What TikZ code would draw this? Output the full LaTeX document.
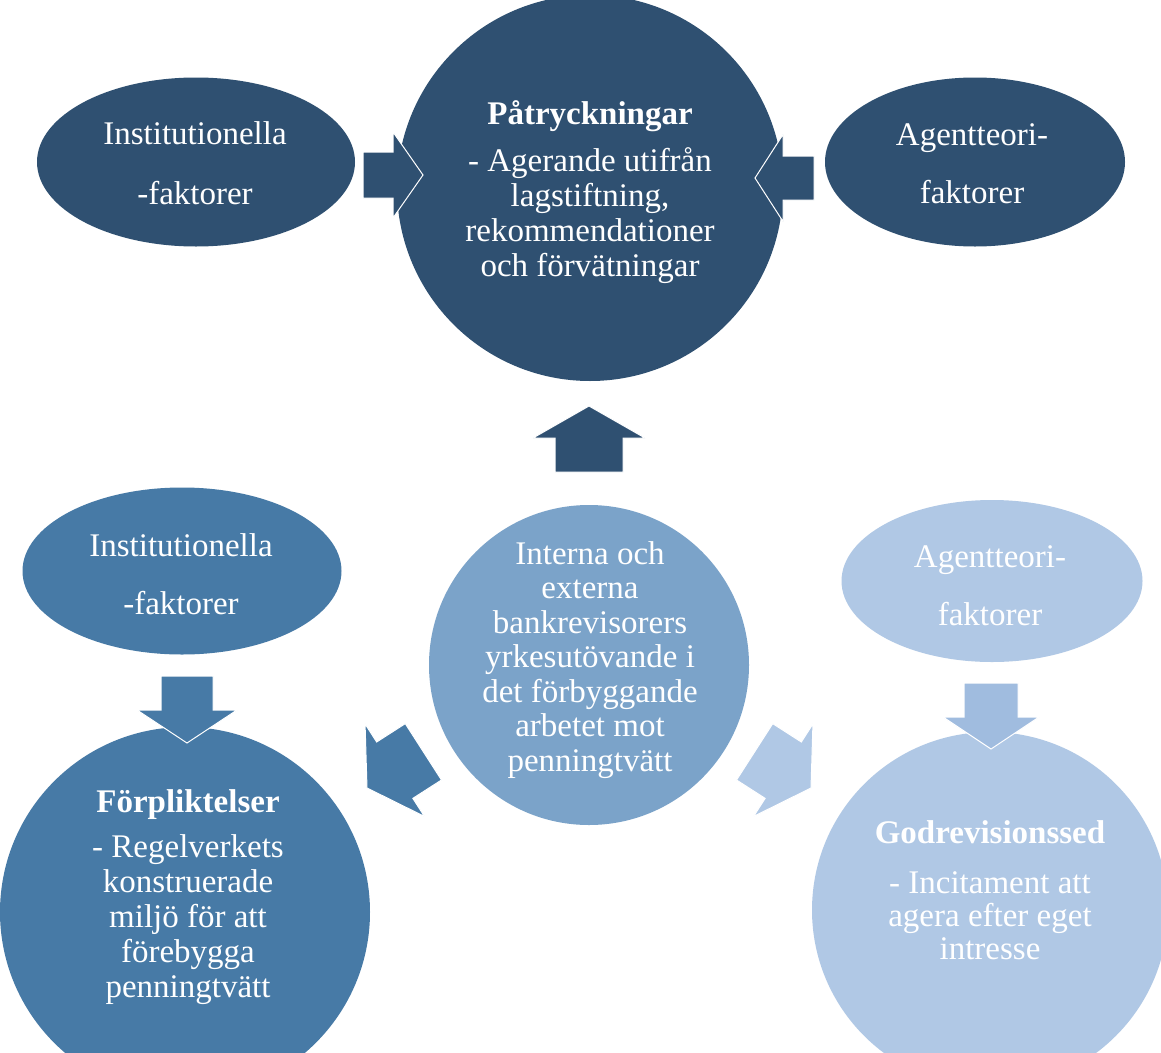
\documentclass[tikz,border=0pt]{standalone}
\usepackage{fontspec}
\setmainfont{Liberation Serif}
\usetikzlibrary{shapes.geometric}
\definecolor{navy}{HTML}{2F5071}
\definecolor{midblue}{HTML}{477AA6}
\definecolor{ctrblue}{HTML}{7BA3C9}
\definecolor{ltblue}{HTML}{B0C8E5}
\definecolor{ltarrow}{HTML}{A0BCDF}
\tikzset{
  disc/.style={circle, inner sep=0pt, minimum size=#1},
  oval/.style 2 args={ellipse, inner sep=0pt, minimum width=#1, minimum height=#2},
  txt/.style={text=white, align=center, font=\fontsize{33}{35}\selectfont, inner sep=0pt},
  pics/blockarr/.style n args={5}{code={
    \path[fill=#5, draw=white, line width=1pt, line join=miter]
      (0,0) -- (-#1,#2) -- (-#1,#3) -- ({-#1-#4},#3) -- ({-#1-#4},-#3)
      -- (-#1,-#3) -- (-#1,-#2) -- cycle;}}
}
\begin{document}
\begin{tikzpicture}[x=1pt,y=-1pt]
\path[use as bounding box, fill=white] (0,0) rectangle (1161,1052);

% shapes
\node[disc=386pt, fill=navy] (top) at (590,188) {};
\node[oval={318pt}{169pt}, fill=navy] (tl) at (196,162) {};
\node[oval={300pt}{169pt}, fill=navy] (tr) at (975,162) {};
\node[oval={319pt}{167pt}, fill=midblue] (bl) at (182,571) {};
\node[oval={301pt}{162pt}, fill=ltblue] (br) at (992,581) {};
\node[disc=320pt, fill=ctrblue] (ctr) at (589,665) {};
\node[disc=370pt, fill=midblue] (blc) at (185,912) {};
\node[disc=356pt, fill=ltblue] (brc) at (990,910) {};

% block arrows
\coordinate (a1) at (423,175);
\coordinate (a2) at (755,178);
\coordinate (a3) at (589,406);
\coordinate (a4) at (187,743);
\coordinate (a5) at (991,749);
\coordinate (a6) at (367,788);
\coordinate (a7) at (811,788);
\pic at (a1) {blockarr={30}{43}{23}{30}{navy}};
\pic[rotate=180] at (a2) {blockarr={28}{43.5}{22}{31}{navy}};
\pic[rotate=90] at (a3) {blockarr={32}{56}{34}{34}{navy}};
\pic[rotate=-90] at (a4) {blockarr={33}{50}{26}{34}{midblue}};
\pic[rotate=-90] at (a5) {blockarr={32}{48}{27}{34}{ltarrow}};
\pic[rotate=212.7] at (a6) {blockarr={33}{55}{33.5}{34}{midblue}};
\pic[rotate=-32.7] at (a7) {blockarr={33}{55}{33.5}{34}{ltblue}};

% texts
\node[txt, font=\fontsize{33}{60}\selectfont] (tlt) at (195,163) {Institutionella\\-faktorer};
\node[txt, font=\fontsize{33}{58}\selectfont] (trt) at (972,164) {Agentteori-\\faktorer};
\node[txt, font=\fontsize{33}{58}\selectfont] (blt) at (181,574) {Institutionella\\-faktorer};
\node[txt, font=\fontsize{33}{58}\selectfont] (brt) at (990,586) {Agentteori-\\faktorer};
\node[txt] (topt) at (590,192) {\textbf{Påtryckningar}\\[12pt]- Agerande utifrån\\lagstiftning,\\rekommendationer\\och förvätningar};
\node[txt, font=\fontsize{33}{34.5}\selectfont] (ctrt) at (590,660) {Interna och\\externa\\bankrevisorers\\yrkesutövande i\\det förbyggande\\arbetet mot\\penningtvätt};
\node[txt] (blct) at (188,897) {\textbf{Förpliktelser}\\[10pt]- Regelverkets\\konstruerade\\miljö för att\\förebygga\\penningtvätt};
\node[txt, font=\fontsize{33}{33}\selectfont] (brct) at (990,890) {\textbf{Godrevisionssed}\\[17pt]- Incitament att\\agera efter eget\\intresse};
\end{tikzpicture}
\end{document}
